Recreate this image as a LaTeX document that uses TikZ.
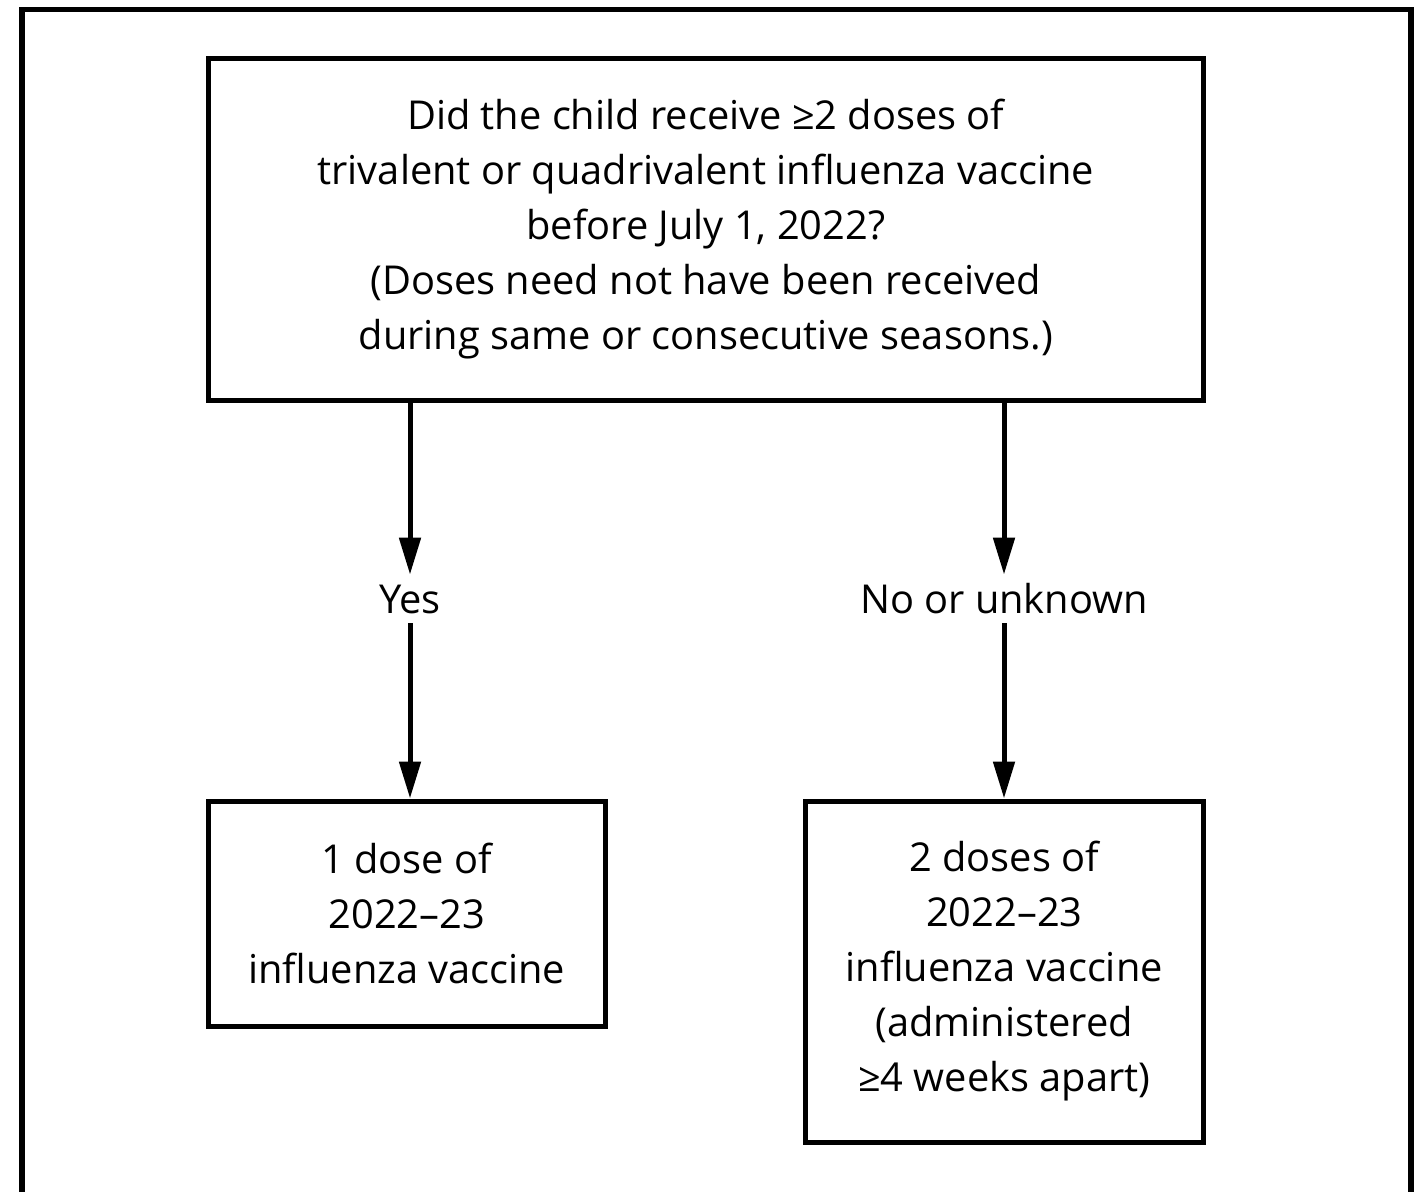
\documentclass[tikz,border=0pt]{standalone}
\usepackage{fontspec}
\setmainfont{Open Sans}
\usetikzlibrary{arrows.meta}
\begin{document}
\begin{tikzpicture}[x=0.5pt,y=-0.5pt,
  box/.style={draw,line width=2.5pt,inner sep=0pt,align=center,font=\fontsize{19.9}{27.5}\selectfont},
  lbl/.style={inner sep=0pt,minimum height=24pt,font=\fontsize{19.9}{27.5}\selectfont},
  arr/.style={line width=2.5pt,-{Triangle[length=18.5pt,width=10.5pt]}}]
\useasboundingbox (0,0) rectangle (1428,1191);
\clip (0,0) rectangle (1428,1191);
\draw[line width=2.8pt] (22,1220) -- (22,9.5) -- (1411,9.5) -- (1411,1220);
\node[box,minimum width=497.25pt,minimum height=170.75pt] (top) at (705.75,229.25)
 {Did the child receive ≥2 doses of\\trivalent or quadrivalent influenza vaccine\\before July 1, 2022?\\(Doses need not have been received\\during same or consecutive seasons.)};
\node[box,minimum width=198.25pt,minimum height=112.5pt] (one) at (406.75,913.5)
 {1 dose of\\2022–23\\influenza vaccine};
\node[box,minimum width=198.75pt,minimum height=170.5pt] (two) at (1004.25,971.5)
 {2 doses of\\2022–23\\influenza vaccine\\(administered\\≥4 weeks apart)};
\node[lbl] (yes) at (410,599) {Yes};
\node[lbl] (no) at (1004,599) {No or unknown};
\draw[arr] (top.south -| yes) -- (yes.north);
\draw[arr] (yes.south) -- (yes.south |- one.north);
\draw[arr] (top.south -| no) -- (no.north);
\draw[arr] (no.south) -- (no.south |- two.north);
\end{tikzpicture}
\end{document}
